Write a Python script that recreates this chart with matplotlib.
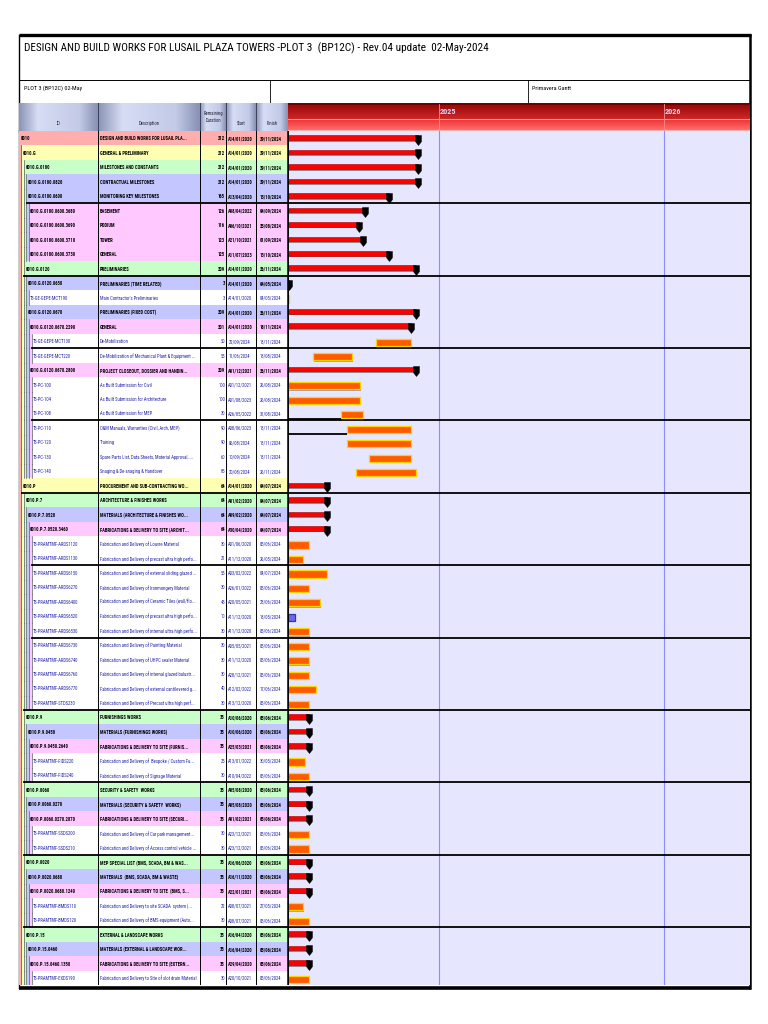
import datetime as dt
import numpy as np
import matplotlib
matplotlib.use('Agg')
import matplotlib.pyplot as plt
import matplotlib.dates as mdates
from matplotlib.patches import Rectangle
from matplotlib.path import Path
from matplotlib import font_manager as fm
from matplotlib.colors import to_rgb

# ---------------- DATA ----------------
TITLE = "DESIGN AND BUILD WORKS FOR LUSAIL PLAZA TOWERS -PLOT 3  (BP12C) - Rev.04 update  02-May-2024"
LAYOUT_NAME = "PLOT 3 (BP12C) 02-May"
VIEW_NAME = "Primavera Gantt"
DATA_DATE = dt.datetime(2024, 5, 2)
VIEW_END = dt.datetime(2026, 5, 21)
YEARS = [2025, 2026]
COL_HEADERS = ["ID", "Description", "Remaining\nDuration", "Start", "Finish"]

ids = [
    "0010", "0010.G", "0010.G.0180", "0010.G.0180.0820", "0010.G.0180.0600",
    "0010.G.0180.0600.3680", "0010.G.0180.0600.3690", "0010.G.0180.0600.3710", "0010.G.0180.0600.3730", "0010.G.0120",
    "0010.G.0120.0650", "T3-GE-GEPE-MCT190", "0010.G.0120.0670", "0010.G.0120.0670.2290", "T3-GE-GEPE-MCT130",
    "T3-GE-GEPE-MCT220", "0010.G.0120.0670.2800", "T3-PC-100", "T3-PC-104", "T3-PC-108",
    "T3-PC-110", "T3-PC-120", "T3-PC-130", "T3-PC-140", "0010.P",
    "0010.P.7", "0010.P.7.0520", "0010.P.7.0520.3460", "T3-PRAMTMF-ARDS1120", "T3-PRAMTMF-ARDS1130",
    "T3-PRAMTMF-ARDS6150", "T3-PRAMTMF-ARDS6270", "T3-PRAMTMF-ARDS6400", "T3-PRAMTMF-ARDS6520", "T3-PRAMTMF-ARDS6530",
    "T3-PRAMTMF-ARDS6730", "T3-PRAMTMF-ARDS6740", "T3-PRAMTMF-ARDS6760", "T3-PRAMTMF-ARDS6770", "T3-PRAMTMF-STDS230",
    "0010.P.9", "0010.P.9.0450", "0010.P.9.0450.2640", "T3-PRAMTMF-FIDS220", "T3-PRAMTMF-FIDS240",
    "0010.P.0060", "0010.P.0060.0270", "0010.P.0060.0270.2870", "T3-PRAMTMF-SSDS200", "T3-PRAMTMF-SSDS210",
    "0010.P.0020", "0010.P.0020.0680", "0010.P.0020.0680.1240", "T3-PRAMTMF-BMDS110", "T3-PRAMTMF-BMDS120",
    "0010.P.15", "0010.P.15.0460", "0010.P.15.0460.1350", "T3-PRAMTMF-EXDS190",
]
descriptions = [
    "DESIGN AND BUILD WORKS FOR LUSAIL PLA...", "GENERAL & PRELIMINARY", "MILESTONES AND CONSTANTS",
    "CONTRACTUAL MILESTONES", "MONITORING KEY MILESTONES",
    "BASEMENT", "PODIUM", "TOWER", "GENERAL", "PRELIMINARIES",
    "PRELIMINARIES (TIME RELATED)", "Main Contractor's Preliminaries", "PRELIMINARIES (FIXED COST)", "GENERAL",
    "De-Mobilization",
    "De-Mobilization of Mechanical Plant & Equipment ...", "PROJECT CLOSEOUT, DOSSIER AND HANDIN...",
    "As Built Submission for Civil", "As Built Submission for Architecture", "As Built Submission for MEP",
    "O&M Manuals, Warranties (Civil, Arch, MEP)", "Training", "Spare Parts List, Data Sheets, Material Approval, ...",
    "Snaging & De-snaging & Handover", "PROCUREMENT AND SUB-CONTRACTING WO...",
    "ARCHITECTURE & FINISHES WORKS", "MATERIALS (ARCHITECTURE & FINISHES WO...",
    "FABRICATIONS & DELIVERY TO SITE (ARCHIT...", "Fabrication and Delivery of Louvre Material",
    "Fabrication and Delivery of precast ultra high perfo...",
    "Fabrication and Delivery of external sliding glazed ...", "Fabrication and Delivery of Ironmongery Material",
    "Fabrication and Delivery of Ceramic Tiles (wall/flo...", "Fabrication and Delivery of precast ultra high perfo...",
    "Fabrication and Delivery of internal ultra high perfo...",
    "Fabrication and Delivery of Painting Material", "Fabrication and Delivery of UHPC sealer Material",
    "Fabrication and Delivery of internal glazed balustr...", "Fabrication and Delivery of external cantilevered g...",
    "Fabrication and Delivery of Precast ultra high perf...",
    "FURNISHINGS WORKS", "MATERIALS (FURNISHINGS WORKS)", "FABRICATIONS & DELIVERY TO SITE (FURNIS...",
    "Fabrication and Delivery of  Bespoke / Custom Fu...", "Fabrication and Delivery of Signage Material",
    "SECURITY & SAFETY  WORKS", "MATERIALS (SECURITY & SAFETY  WORKS)", "FABRICATIONS & DELIVERY TO SITE (SECURI...",
    "Fabrication and Delivery of Car park management...", "Fabrication and Delivery of Access control vehicle ...",
    "MEP SPECIAL LIST (BMS, SCADA, BM & WAS...", "MATERIALS  (BMS, SCADA, BM & WASTE)",
    "FABRICATIONS & DELIVERY TO SITE  (BMS, S...", "Fabrication and Delivery to site SCADA  system (...",
    "Fabrication and Delivery of BMS equipment (Auto...",
    "EXTERNAL & LANDSCAPE WORKS", "MATERIALS (EXTERNAL & LANDSCAPE WOR...", "FABRICATIONS & DELIVERY TO SITE (EXTERN...",
    "Fabrication and Delivery to Site of slot drain Material",
]
remaining = [
    212, 212, 212, 212, 165, 126, 116, 123, 125, 209,
    3, 3, 209, 201, 50, 55, 209, 100, 100, 30,
    90, 90, 60, 85, 64, 64, 64, 64, 30, 21,
    55, 30, 45, 10, 30, 30, 30, 30, 40, 30,
    35, 35, 35, 25, 30, 35, 35, 35, 30, 30,
    35, 35, 35, 22, 30, 35, 35, 35, 30,
]
starts = [
    "A14/01/2020", "A14/01/2020", "A14/01/2020", "A14/01/2020", "A13/04/2020",
    "A08/04/2022", "A06/10/2021", "A21/10/2021", "A11/07/2023", "A14/01/2020",
    "A14/01/2020", "A14/01/2020", "A14/01/2020", "A14/01/2020", "22/09/2024",
    "11/06/2024", "A01/12/2021", "A01/12/2021", "A01/08/2023", "A26/05/2022",
    "A08/06/2023", "06/08/2024", "10/09/2024", "20/08/2024", "A14/01/2020",
    "A01/02/2020", "A09/02/2020", "A30/04/2020", "A01/06/2020", "A11/12/2020",
    "A03/02/2022", "A26/01/2022", "A20/05/2021", "A11/12/2020", "A11/12/2020",
    "A05/05/2021", "A11/12/2020", "A28/12/2021", "A12/02/2022", "A13/12/2020",
    "A10/06/2020", "A10/06/2020", "A25/03/2021", "A13/01/2022", "A10/04/2022",
    "A05/08/2020", "A05/08/2020", "A01/02/2021", "A23/12/2021", "A23/12/2021",
    "A16/06/2020", "A16/11/2020", "A22/01/2021", "A08/07/2021", "A08/07/2021",
    "A16/04/2020", "A16/04/2020", "A29/04/2020", "A20/10/2021",
]
finishes = [
    "29/11/2024", "29/11/2024", "29/11/2024", "29/11/2024", "13/10/2024",
    "04/09/2024", "25/08/2024", "01/09/2024", "13/10/2024", "26/11/2024",
    "04/05/2024", "04/05/2024", "26/11/2024", "18/11/2024", "18/11/2024",
    "13/08/2024", "26/11/2024", "26/08/2024", "26/08/2024", "31/08/2024",
    "18/11/2024", "18/11/2024", "18/11/2024", "26/11/2024", "04/07/2024",
    "04/07/2024", "04/07/2024", "04/07/2024", "05/06/2024", "26/05/2024",
    "04/07/2024", "05/06/2024", "23/06/2024", "13/05/2024", "05/06/2024",
    "05/06/2024", "05/06/2024", "05/06/2024", "17/06/2024", "05/06/2024",
    "05/06/2024", "05/06/2024", "05/06/2024", "30/05/2024", "05/06/2024",
    "05/06/2024", "05/06/2024", "05/06/2024", "05/06/2024", "05/06/2024",
    "05/06/2024", "05/06/2024", "05/06/2024", "27/05/2024", "05/06/2024",
    "05/06/2024", "05/06/2024", "05/06/2024", "05/06/2024",
]
levels = [
    0, 1, 2, 3, 3, 4, 4, 4, 4, 2,
    3, 4, 3, 4, 5, 5, 4, 5, 5, 5,
    5, 5, 5, 5, 1, 2, 3, 4, 5, 5,
    5, 5, 5, 5, 5, 5, 5, 5, 5, 5,
    2, 3, 4, 5, 5, 2, 3, 4, 5, 5,
    2, 3, 4, 5, 5, 2, 3, 4, 5,
]
is_wbs = [not s.startswith("T3-") for s in ids]
blue_bar_ids = ["T3-PRAMTMF-ARDS6520"]

# ---------------- STYLE ----------------
LEVEL_COLORS = ["#FFADAD", "#FFFFB4", "#C8FFC8", "#C4C6FF", "#FFC8FF"]
GANTT_BG = "#E6E6FF"
ACT_TEXT = "#2626A6"

names = {f.name for f in fm.fontManager.ttflist}
if "Liberation Sans Narrow" in names:
    FAM = ["Liberation Sans Narrow", "DejaVu Sans"]; K = 1.0
elif "Roboto Condensed" in names:
    FAM = ["Roboto Condensed", "DejaVu Sans"]; K = 0.95
else:
    FAM = ["Liberation Sans", "DejaVu Sans"]; K = 0.82
plt.rcParams["font.family"] = FAM

W, H = 768, 1024
FR_L, FR_R = 18.5, 750.0
TOP, TITLE_B, SUB_B, HEAD_B, ROWS_B = 35, 80, 103, 131, 985
GL = 288
COLX = [19, 98, 200, 226, 256, 287.5]
STRIP = 2.6


def parse(s):
    return dt.datetime.strptime(s.lstrip("A"), "%d/%m/%Y"), s.startswith("A")


def fbox(x0, y0, x1, y1):
    return [x0 / W, 1 - y1 / H, (x1 - x0) / W, (y1 - y0) / H]


def grad(c0, c1, n):
    a, b = np.array(to_rgb(c0)), np.array(to_rgb(c1))
    t = np.linspace(0, 1, n)[:, None]
    return a + (b - a) * t


fig = plt.figure(figsize=(W / 100, H / 100), dpi=100)
fig.patch.set_facecolor("white")

# ---- background / frame ----
bg = fig.add_axes([0, 0, 1, 1])
bg.set_xlim(0, W); bg.set_ylim(H, 0); bg.axis("off")
bg.plot([FR_L, FR_R + 1], [TOP, TOP], color="black", lw=2.4, solid_capstyle="butt")
bg.plot([FR_L, FR_L], [TOP, 988], color="black", lw=1.0)
bg.plot([FR_R, FR_R], [TOP, 988], color="black", lw=1.8)
bg.plot([FR_L, FR_R], [TITLE_B, TITLE_B], color="black", lw=0.7)
bg.plot([FR_L, GL], [SUB_B, SUB_B], color="black", lw=0.7)
for xd in (270, 528):
    bg.plot([xd, xd], [TITLE_B, SUB_B], color="black", lw=0.6)
bg.plot([FR_L, FR_R + 1], [987.5, 987.5], color="black", lw=2.6, solid_capstyle="butt")
bg.plot([FR_L, GL], [HEAD_B, HEAD_B], color="black", lw=1.0)
bg.text(24, 48.5, TITLE, fontsize=8.55 * K, va="center", ha="left", color="black")
bg.text(24, 88, LAYOUT_NAME, fontsize=4.7 * K, va="center", ha="left")
bg.text(532, 88, VIEW_NAME, fontsize=4.7 * K, va="center", ha="left")

# ---- table header ----
th = fig.add_axes(fbox(19, SUB_B, 288, HEAD_B))
th.set_xlim(19, 288); th.set_ylim(1, 0); th.axis("off")
for j, lab in enumerate(COL_HEADERS):
    x0, x1 = COLX[j], COLX[j + 1]
    n = 40
    g = np.concatenate([grad("#8E97BA", "#D6DCF3", n // 4), grad("#D6DCF3", "#C4CBE8", n // 2),
                        grad("#C4CBE8", "#8A92B6", n // 4)])
    th.imshow(g[None, :, :], extent=[x0, x1, 1, 0], aspect="auto", interpolation="bilinear")
    th.plot([x1, x1], [0, 1], color="#3A4058", lw=0.7)
    yy = 0.72 if j != 2 else 0.5
    th.text((x0 + x1) / 2, yy, lab, fontsize=3.5 * K, ha="center", va="center", color="#222233",
            linespacing=1.3)
th.set_xlim(19, 288); th.set_ylim(1, 0)

# ---- table body ----
n = len(ids)
tb = fig.add_axes(fbox(19, HEAD_B, 288, ROWS_B))
tb.set_xlim(19, 288); tb.set_ylim(n, 0); tb.axis("off")
for i in range(n):
    L = levels[i]
    x0 = COLX[0] + L * STRIP
    col = LEVEL_COLORS[L] if is_wbs[i] else "white"
    tb.add_patch(Rectangle((x0, i), COLX[-1] - x0, 1, facecolor=col, edgecolor="none", zorder=1))
    for k in range(L):
        tb.add_patch(Rectangle((COLX[0] + k * STRIP, i), STRIP, 1, facecolor=LEVEL_COLORS[k],
                               edgecolor="none", zorder=1))
        xl = COLX[0] + (k + 1) * STRIP - 0.35
        tb.plot([xl, xl], [i, i + 1], color="#4A4A5A", lw=0.45, zorder=2)
    tc = "black" if is_wbs[i] else ACT_TEXT
    fw = "bold" if is_wbs[i] else "normal"
    fs = 3.55 * K
    yc = i + 0.55
    tb.text(20.6 + L * 2.4, yc, ids[i], fontsize=fs, color=tc, weight=fw, va="center", ha="left", zorder=3)
    tb.text(100, yc, descriptions[i], fontsize=fs, color=tc, weight=fw, va="center", ha="left", zorder=3)
    tb.text(225, yc, str(remaining[i]), fontsize=fs, color=tc, weight=fw, va="center", ha="right", zorder=3)
    tb.text(228.3, yc, starts[i], fontsize=fs, color=tc, weight=fw, va="center", ha="left", zorder=3)
    tb.text(259.3, yc, finishes[i], fontsize=fs, color=tc, weight=fw, va="center", ha="left", zorder=3)
for xc in COLX[1:-1]:
    tb.plot([xc, xc], [0, n], color="black", lw=0.7, zorder=4)
tb.plot([COLX[-1], COLX[-1]], [0, n], color="black", lw=1.1, zorder=4)
for b in range(5, n, 5):
    lm = min(levels[b - 1], levels[b])
    tb.plot([COLX[0] + lm * STRIP, 288], [b, b], color="black", lw=1.3, zorder=4)

# ---- gantt body ----
gx0, gx1 = mdates.date2num(DATA_DATE), mdates.date2num(VIEW_END)
px = (gx1 - gx0) / (FR_R - GL)  # days per pixel
ga = fig.add_axes(fbox(GL, HEAD_B, FR_R, ROWS_B))
ga.set_facecolor(GANTT_BG)
ga.set_xlim(gx0, gx1); ga.set_ylim(n, 0)
ga.set_xticks([]); ga.set_yticks([])
for s in ga.spines.values():
    s.set_visible(False)
for yv in YEARS:
    ga.axvline(mdates.date2num(dt.datetime(yv, 1, 1)), color="#8C8CFF", lw=0.8, zorder=1)
for b in range(5, n, 5):
    ga.axhline(b, color="black", lw=1.3, zorder=2)

MK = Path([(-0.3, 0.5), (0.3, 0.5), (0.3, -0.12), (0.0, -0.5), (-0.3, -0.12), (-0.3, 0.5)],
          [Path.MOVETO, Path.LINETO, Path.LINETO, Path.LINETO, Path.LINETO, Path.CLOSEPOLY])

for i in range(n):
    sd, actual = parse(starts[i])
    fd, _ = parse(finishes[i])
    f = mdates.date2num(fd)
    if is_wbs[i]:
        bs = gx0
    elif actual:
        bs = max(gx0, f - round(remaining[i] * 7 / 6))
    else:
        bs = mdates.date2num(sd)
    w = max(f - bs, 0.3)
    if is_wbs[i]:
        ga.barh(i + 0.67, w + px, left=bs, height=0.13, color="#8A8A8A", zorder=3)
        ga.barh(i + 0.45, w, left=bs, height=0.32, color="#FF0000", edgecolor="#A80000", lw=0.4, zorder=4)
        ga.plot([f], [i + 0.61], marker=MK, markersize=7.2, color="black", mec="black", mew=0.3,
                linestyle="none", zorder=5)
    else:
        blue = ids[i] in blue_bar_ids
        fc = "#6868F0" if blue else "#FF5A00"
        ec = "#3434B8" if blue else "#FFD400"
        ga.barh(i + 0.68, w, left=bs + px, height=0.5, color="#A2A2A2", zorder=3)
        ga.barh(i + 0.6, w, left=bs, height=0.5, color=fc, edgecolor=ec, lw=0.9, zorder=4)
        if actual and bs > gx0 + 1:
            ga.plot([gx0, bs], [i + 0.9, i + 0.9], color="black", lw=1.3, zorder=4,
                    solid_capstyle="butt")
ga.axvline(gx0, color="black", lw=1.4, zorder=6)

# ---- gantt header ----
gh = fig.add_axes(fbox(GL, SUB_B, FR_R, HEAD_B))
gh.set_xlim(gx0, gx1); gh.set_ylim(1, 0); gh.axis("off")
band = np.concatenate([grad("#700000", "#700000", 2), grad("#9A0A0A", "#CF2626", 14),
                       grad("#FF9C9C", "#FF9C9C", 1), grad("#EE3A3A", "#FF6A6A", 10),
                       grad("#FFB0B0", "#FFB0B0", 1)])
gh.imshow(band[:, None, :], extent=[gx0, gx1, 1, 0], aspect="auto", interpolation="nearest")
gh.set_xlim(gx0, gx1); gh.set_ylim(1, 0)
for yv in YEARS:
    xv = mdates.date2num(dt.datetime(yv, 1, 1))
    gh.plot([xv, xv], [0.05, 1], color="#FF8C8C", lw=0.6)
    gh.text(xv + 1.2 * px, 0.3, str(yv), fontsize=6.2 * K, color="#DCD6FF", weight="bold",
            ha="left", va="center")

fig.savefig("out.png", dpi=100, facecolor="white")
